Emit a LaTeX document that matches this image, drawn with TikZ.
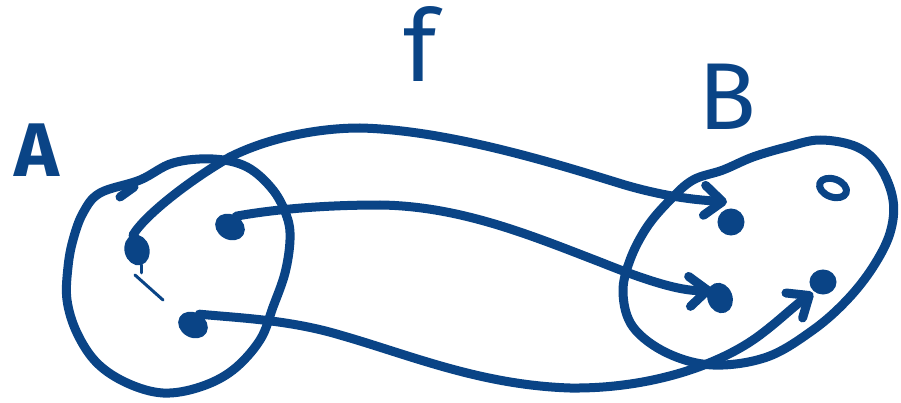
\documentclass[tikz,border=0pt]{standalone}
\usepackage{fontspec}
\setmainfont{Fira Sans}
\usetikzlibrary{arrows.meta,shapes.geometric}
\definecolor{ink}{RGB}{10,68,134}
\begin{document}
\begin{tikzpicture}[x=1pt,y=-1pt,
  pen/.style={draw=ink,line width=9pt,line cap=round,line join=round},
  thinpen/.style={draw=ink,line width=3pt,line cap=round},
  mapto/.style={pen,-{Straight Barb[length=18pt,width=30pt,round]}},
  dotfill/.style={ellipse,fill=ink,draw=ink,line width=3pt,inner sep=0pt,minimum width=22pt,minimum height=28pt},
  lbl/.style={text=ink,inner sep=0pt,font=\fontsize{76}{76}\selectfont}]
\useasboundingbox (0,0) rectangle (901,403);
% set A
\draw[pen] plot[smooth cycle,tension=0.6] coordinates {(100,193) (140,180) (173,163) (213,159) (247,167) (273,190) (287,217) (290,240) (285,273) (273,307) (260,340) (233,370) (200,387) (163,393) (127,383) (97,363) (77,333) (67,300) (68,267) (73,240) (83,213)};
\draw[pen] (120,197) -- (134,187);
% set B
\draw[pen] plot[smooth cycle,tension=0.6] coordinates {(723,170) (753,157) (787,147) (820,140) (857,147) (880,167) (893,200) (890,233) (873,267) (847,300) (813,330) (767,357) (713,365) (667,353) (633,327) (623,293) (630,260) (647,227) (670,200) (693,180)};
% labels
\node[lbl,font=\fontsize{76}{76}\selectfont\bfseries] (la) at (37,150) {A};
\node[lbl,font=\fontsize{100}{100}\selectfont] (lf) at (420,44) {f};
\node[lbl,font=\fontsize{95}{95}\selectfont] (lb) at (727,97) {B};
% elements of A
\node[dotfill,rotate=15] (a1) at (137,250) {};
\node[dotfill,rotate=60] (a2) at (230,227) {};
\node[dotfill,rotate=60] (a3) at (193,325) {};
\draw[thinpen] (a1.south) -- ++(0,8);
\draw[thinpen] (135,275) -- (163,300);
% elements of B
\node[dotfill,minimum width=24pt,minimum height=24pt] (b1) at (731,222) {};
\node[dotfill,rotate=20] (b2) at (720,298) {};
\node[dotfill,minimum width=24pt,minimum height=22pt] (b3) at (823,282) {};
\coordinate (b4) at (833,188);
\draw[pen,line width=7pt,rotate around={-20:(b4)}] (b4) ellipse [x radius=14, y radius=9];
% arrow tips
\coordinate (t1) at (727,202);
\coordinate (t2) at (712,290);
\coordinate (t3) at (813,293);
% mapping arrows
\draw[mapto] (a1.north) .. controls (145,215) and (190,180) .. (230,157)
  .. controls (270,137) and (320,128) .. (360,128)
  .. controls (450,130) and (560,165) .. (625,185)
  .. controls (670,198) and (700,200) .. (t1);
\draw[mapto] (a2.east) .. controls (270,210) and (320,205) .. (380,205)
  .. controls (460,206) and (530,235) .. (600,262)
  .. controls (640,278) and (680,292) .. (t2);
\draw[mapto] (a3.east) .. controls (240,318) and (290,320) .. (340,335)
  .. controls (410,355) and (480,385) .. (570,388)
  .. controls (650,389) and (720,365) .. (760,335)
  .. controls (780,320) and (795,305) .. (t3);
\end{tikzpicture}
\end{document}
